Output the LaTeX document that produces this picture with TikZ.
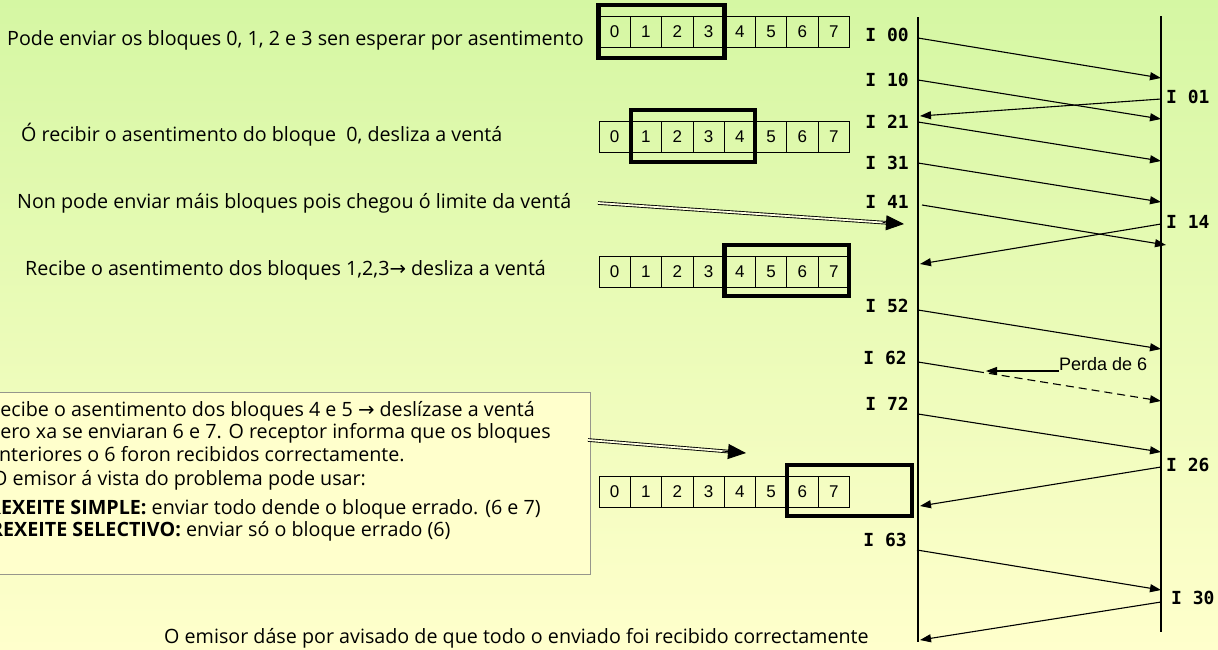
\documentclass[tikz,border=0pt]{standalone}
\usepackage{fontspec}
\setmainfont{Open Sans}
\newfontfamily\arialf{Liberation Sans}
\newfontfamily\monof{DejaVu Sans Mono}
\newfontfamily\symf{DejaVu Sans}
\usetikzlibrary{arrows.meta,calc}
\definecolor{bgtop}{RGB}{213,247,163}
\definecolor{bgbot}{RGB}{255,255,204}
\definecolor{boxfill}{RGB}{255,255,204}
\definecolor{boxline}{RGB}{150,150,140}
\newcommand{\rarr}{{\symf →}}
\tikzset{
  txt/.style={anchor=west, inner sep=0pt, font=\fontsize{19.7}{21}\selectfont},
  cellbox/.style={draw, line width=0.8pt, minimum width=31.3pt, minimum height=31pt, inner sep=0pt, font=\arialf\fontsize{17}{17}\selectfont},
  winbox/.style={line width=4.5pt},
  tline/.style={line width=2pt},
  msg/.style={line width=1.1pt, -{Triangle[length=11pt,width=8pt]}},
  lbl/.style={inner sep=0pt, font=\monof\bfseries\fontsize{18}{18}\selectfont},
  dbl/.style={double=white!40!bgbot, double distance=1.8pt, line width=0.9pt, shorten >=14pt},
  dbltip/.style={line width=0.9pt, -{Triangle[length=18pt,width=15pt]}},
  infobox/.style={draw=boxline, line width=0.8pt, fill=boxfill}
}
\newcommand{\cellrow}[2]{%
  \foreach \i in {0,...,7} {
    \node[cellbox] (#1\i) at ({599+31.3*\i+15.65},{#2+15.5}) {\i};
  }}
\begin{document}
\begin{tikzpicture}[x=1pt,y=-1pt]
\useasboundingbox (0,0) rectangle (1218,649);
\clip (0,0) rectangle (1218,649);
\shade[top color=bgtop, bottom color=bgbot] (0,0) rectangle (1218,649);

% left explanatory texts
\node[txt] (t1) at (7,40) {Pode enviar os bloques 0, 1, 2 e 3 sen esperar por asentimento};
\node[txt] (t2) at (21,135) {Ó recibir o asentimento do bloque~ 0, desliza a ventá};
\node[txt] (t3) at (17,203) {Non pode enviar máis bloques pois chegou ó limite da ventá};
\node[txt] (t4) at (25,270) {Recibe o asentimento dos bloques 1,2,3\rarr{} desliza a ventá};
\node[txt] (t5) at (164,638) {O emisor dáse por avisado de que todo o enviado foi recibido correctamente};

% info box
\draw[infobox] (-5,392) rectangle (590,574);
\coordinate (boxR) at (588,440);
\node[txt] (b1) at (-12,411) {Recibe o asentimento dos bloques 4 e 5 \rarr{} deslízase a ventá};
\node[txt] (b2) at (-12,433) {pero xa se enviaran 6 e 7. O receptor informa que os bloques};
\node[txt] (b3) at (-12,454) {anteriores o 6 foron recibidos correctamente.};
\node[txt] (b4) at (-8,480) {O emisor á vista do problema pode usar:};
\node[txt] (b5) at (-12,509) {\textbf{REXEITE SIMPLE:} enviar todo dende o bloque errado. (6 e 7)};
\node[txt] (b6) at (-10,531) {\textbf{REXEITE SELECTIVO:} enviar só o bloque errado (6)};

% cell rows
\cellrow{ra}{16}
\cellrow{rb}{121}
\cellrow{rc}{256}
\cellrow{rd}{476}

% windows
\draw[winbox] (598.5,5) rectangle (724.5,58);
\draw[winbox] (631,110) rectangle (755,162);
\draw[winbox] (724.7,245) rectangle (849,296);
\draw[winbox] (786.8,465) rectangle (911.8,516);

% double arrows
\coordinate (da1s) at (598,203);
\coordinate (da1e) at (904,224);
\coordinate (da2e) at (746,453);
\draw[dbl] (da1s) -- (da1e);
\draw[dbltip] ($(da1s)!0.93!(da1e)$) -- (da1e);
\draw[dbl] (boxR) -- (da2e);
\draw[dbltip] ($(boxR)!0.85!(da2e)$) -- (da2e);

% timelines
\coordinate (LT) at (918,17);
\coordinate (LB) at (918,642);
\coordinate (RT) at (1161,16);
\coordinate (RB) at (1161,632);
\draw[tline] (LT) -- (LB);
\draw[tline] (RT) -- (RB);

% message endpoints
\coordinate (s1) at (918,38);   \coordinate (e1) at (1161,78);
\coordinate (s2) at (918,80);   \coordinate (e2) at (1161,119);
\coordinate (s3) at (1161,99);  \coordinate (e3) at (920,116);
\coordinate (s4) at (918,122);  \coordinate (e4) at (1161,161);
\coordinate (s5) at (918,163);  \coordinate (e5) at (1161,202);
\coordinate (s6) at (922,205);  \coordinate (e6) at (1166,245);
\coordinate (s7) at (1161,224); \coordinate (e7) at (920,264);
\coordinate (s8) at (918,310);  \coordinate (e8) at (1161,349);
\coordinate (s9) at (918,362);  \coordinate (m9) at (976,371.3); \coordinate (e9) at (1161,401);
\coordinate (s10) at (918,414); \coordinate (e10) at (1161,452);
\coordinate (s11) at (1161,467);\coordinate (e11) at (920,506);
\coordinate (s12) at (917,550); \coordinate (e12) at (1161,590);
\coordinate (s13) at (1161,602);\coordinate (e13) at (920,640);

\draw[msg] (s1) -- (e1);
\draw[msg] (s2) -- (e2);
\draw[msg] (s3) -- (e3);
\draw[msg] (s4) -- (e4);
\draw[msg] (s5) -- (e5);
\draw[msg] (s6) -- (e6);
\draw[msg] (s7) -- (e7);
\draw[msg] (s8) -- (e8);
\draw[line width=1.1pt] (s9) -- (m9);
\draw[msg, dash pattern=on 8pt off 5pt] (m9) -- (e9);
\draw[msg] (s10) -- (e10);
\draw[msg] (s11) -- (e11);
\draw[msg] (s12) -- (e12);
\draw[msg] (s13) -- (e13);

% loss annotation
\node[anchor=south west, inner sep=0pt, font=\arialf\fontsize{18}{18}\selectfont] (perda) at (1059,371) {Perda de 6};
\coordinate (perdaTip) at (986,371);
\draw[msg] (perda.south west) -- (perdaTip);

% labels sender side
\node[lbl, anchor=east] (l00) at (909,35) {I 00};
\node[lbl, anchor=east] (l10) at (909,80) {I 10};
\node[lbl, anchor=east] (l21) at (909,122) {I 21};
\node[lbl, anchor=east] (l31) at (909,163) {I 31};
\node[lbl, anchor=east] (l41) at (909,202) {I 41};
\node[lbl, anchor=east] (l52) at (909,306) {I 52};
\node[lbl, anchor=east] (l62) at (907,358) {I 62};
\node[lbl, anchor=east] (l72) at (909,404) {I 72};
\node[lbl, anchor=east] (l63) at (907,540) {I 63};
% labels receiver side
\node[lbl, anchor=west] (r01) at (1166,97) {I 01};
\node[lbl, anchor=west] (r14) at (1166,222) {I 14};
\node[lbl, anchor=west] (r26) at (1166,465) {I 26};
\node[lbl, anchor=west] (r30) at (1171,598) {I 30};
\end{tikzpicture}
\end{document}
